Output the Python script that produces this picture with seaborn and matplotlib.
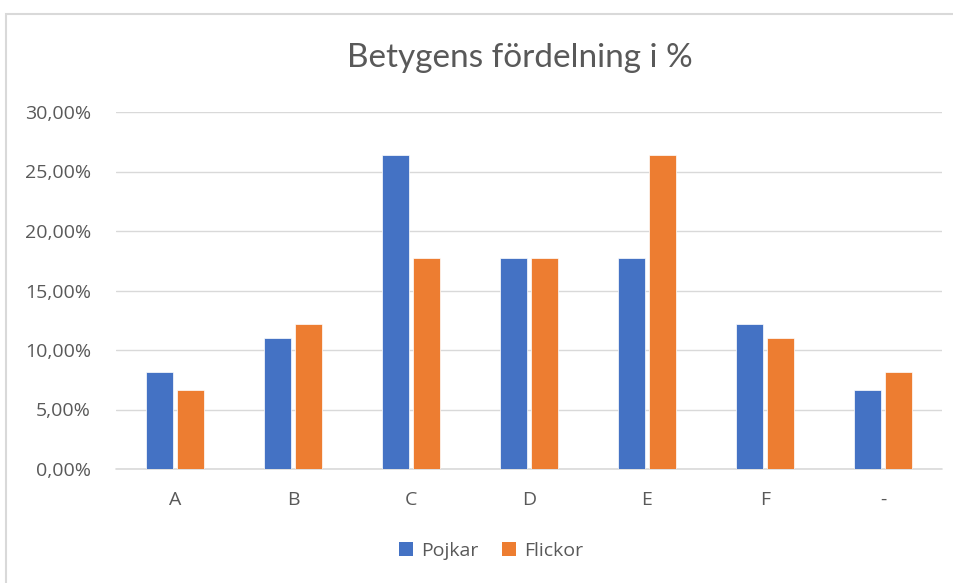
import numpy as np
import pandas as pd
import matplotlib
matplotlib.use("Agg")
import matplotlib.pyplot as plt
from matplotlib.ticker import FuncFormatter, MultipleLocator
from matplotlib.patches import Rectangle, Patch
import seaborn as sns

# data (percent)
betyg = ["A", "B", "C", "D", "E", "F", "-"]
pojkar = [8.13, 11.02, 26.35, 17.75, 17.75, 12.2, 6.62]
flickor = [6.62, 12.2, 17.75, 17.75, 26.35, 11.02, 8.13]
serier = ["Pojkar", "Flickor"]
farger = ["#4472C4", "#ED7D31"]

df = pd.DataFrame({
    "Betyg": betyg * 2,
    "Andel": pojkar + flickor,
    "Kon": [serier[0]] * len(betyg) + [serier[1]] * len(betyg),
})

sns.set_style("white")
plt.rcParams["font.family"] = ["Open Sans", "DejaVu Sans"]
textfarg = "#595959"
gridfarg = "#d9d9d9"

fig = plt.figure(figsize=(9.54, 5.83), dpi=100)
ax = fig.add_axes([116 / 954, 1 - 469 / 583, 826 / 954, 357 / 583])

sns.barplot(data=df, x="Betyg", y="Andel", hue="Kon", order=betyg,
            hue_order=serier, palette=farger, saturation=1, width=0.52, gap=0.1,
            errorbar=None, edgecolor="white", linewidth=0.5, ax=ax, zorder=3)

ax.set_xlim(-0.5, len(betyg) - 0.5)
ax.set_ylim(0, 30)
ax.yaxis.set_major_locator(MultipleLocator(5))
ax.yaxis.set_major_formatter(FuncFormatter(lambda v, p: f"{v:.2f}".replace(".", ",") + "%"))
ax.grid(axis="y", color=gridfarg, linewidth=1, zorder=0)
ax.axhline(0, color=gridfarg, linewidth=1.2, zorder=1, clip_on=False)
ax.set_axisbelow(True)
for s in ax.spines.values():
    s.set_visible(False)
ax.tick_params(axis="both", length=0, labelsize=14, labelcolor=textfarg)
ax.tick_params(axis="y", pad=18)
ax.tick_params(axis="x", pad=16)
ax.set_xlabel("")
ax.set_ylabel("")
ax.get_legend().remove()

fig.text(520 / 954, 1 - 58 / 583, "Betygens fördelning i %", ha="center", va="center",
         fontsize=24, color=textfarg, family=["Lato", "DejaVu Sans"])

handles = [Patch(facecolor=c, edgecolor="none") for c in farger]
fig.legend(handles, serier, loc="center", bbox_to_anchor=(491 / 954, 1 - 551 / 583),
           ncol=2, frameon=False, fontsize=14, labelcolor=textfarg,
           handlelength=0.75, handleheight=0.75, handletextpad=0.4, columnspacing=1.2)

# chart area border
fig.patches.append(Rectangle((6 / 954, -0.05), 1.1, 1 - 14 / 583 + 0.05,
                             transform=fig.transFigure, fill=False,
                             edgecolor=gridfarg, linewidth=1.5))

fig.savefig("out.png", dpi=100)
